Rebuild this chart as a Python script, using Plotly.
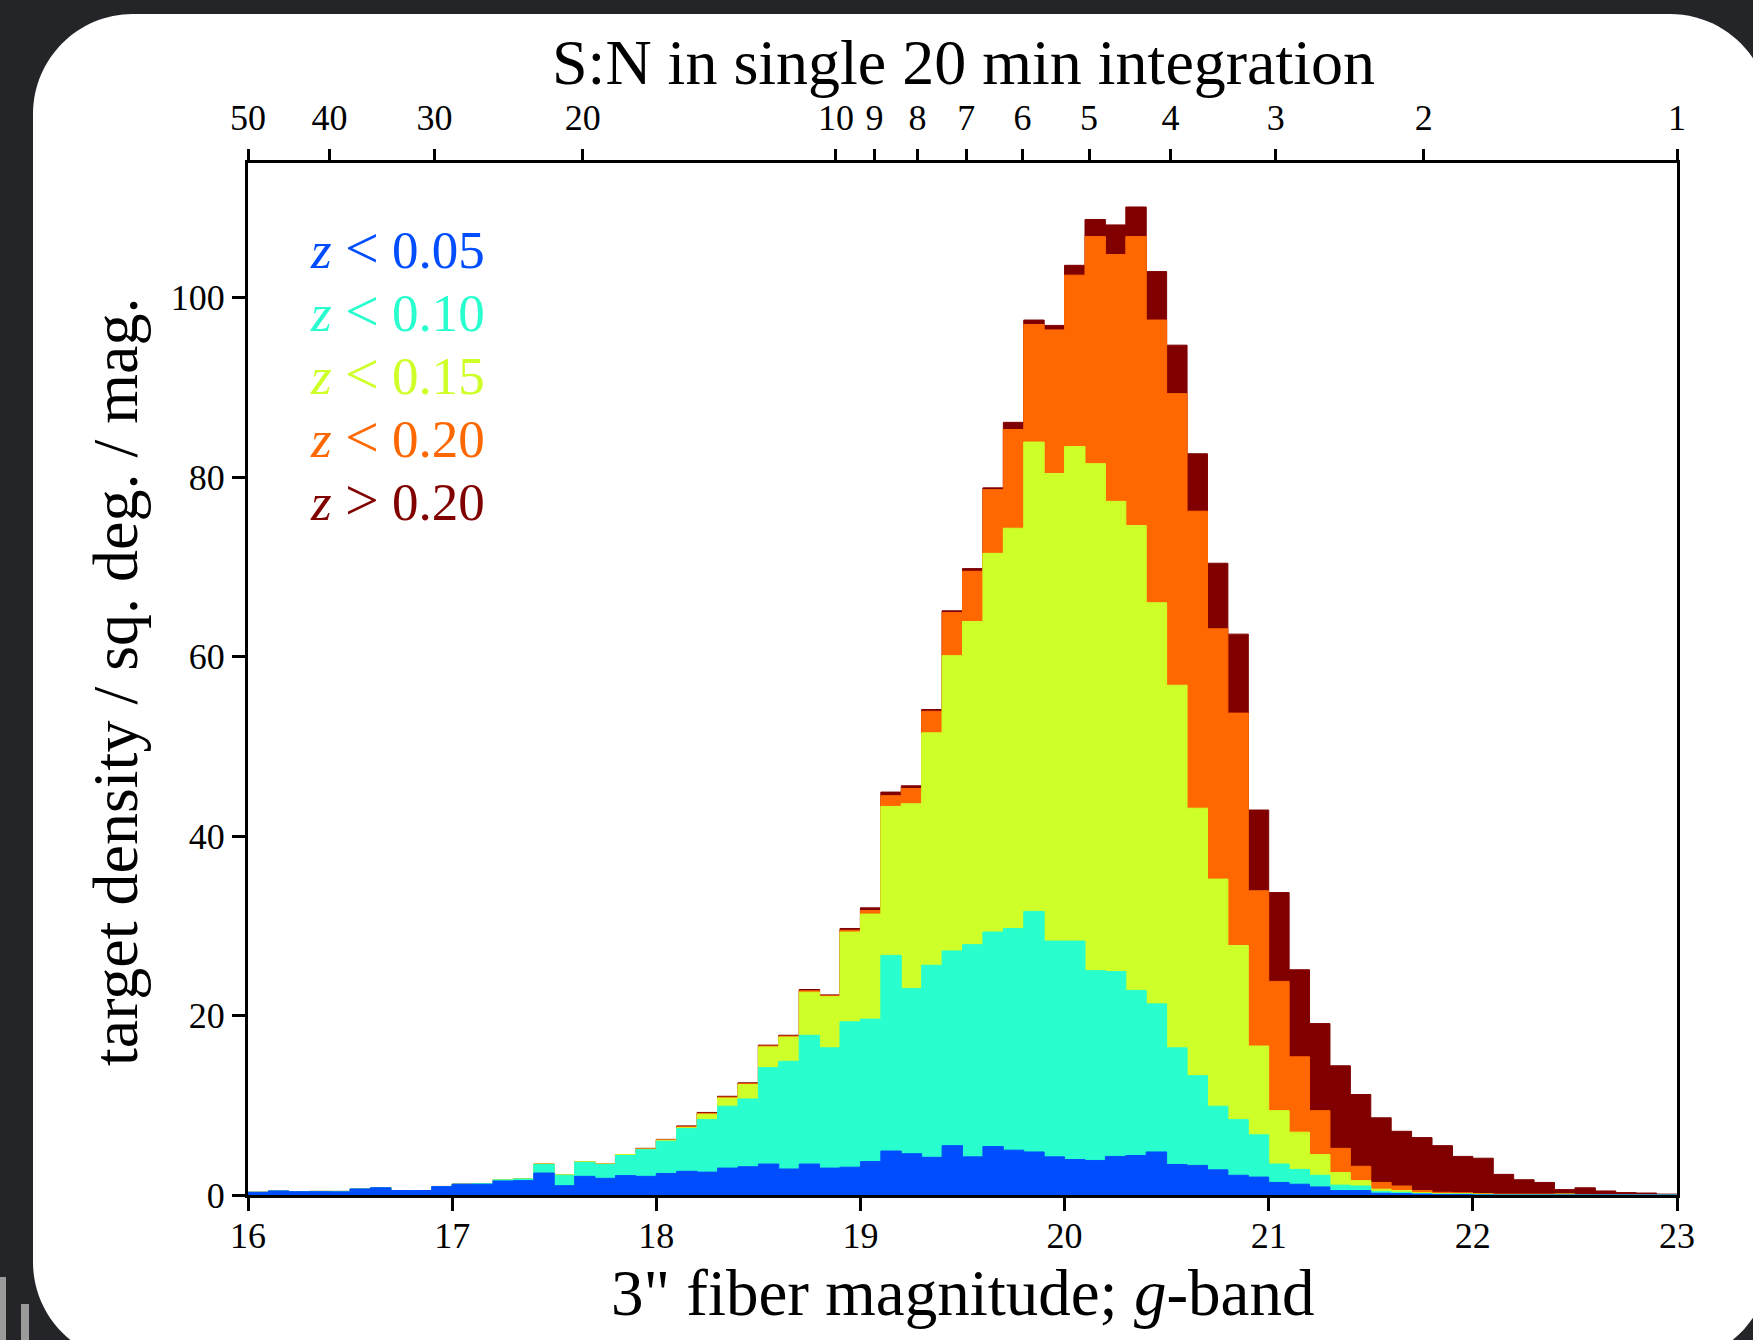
import numpy as np
import plotly.graph_objects as go

# ---------------- data ----------------
# histogram bins: 0.1 mag wide, left edges 16.0 ... 22.9
bin_left = [round(16.0 + 0.1 * i, 1) for i in range(70)]
bin_right_edge = 23.0

# cumulative target densities per bin (targets / sq. deg. / mag.)
z_lt_005 = [0.30, 0.45, 0.37, 0.37, 0.35, 0.67, 0.80, 0.50, 0.50, 0.93,
            1.20, 1.20, 1.56, 1.60, 2.45, 1.04, 2.08, 1.86, 2.16, 2.08,
            2.40, 2.64, 2.55, 3.00, 3.15, 3.45, 2.90, 3.45, 3.00, 3.10,
            3.72, 4.90, 4.60, 4.20, 5.50, 4.25, 5.40, 5.00, 4.80, 4.25,
            3.95, 3.85, 4.30, 4.40, 4.80, 3.40, 3.30, 2.80, 2.20, 2.00,
            1.40, 1.20, 0.90, 0.50, 0.50, 0.20, 0.15, 0.10, 0.05, 0.05,
            0, 0, 0, 0, 0, 0, 0, 0, 0, 0]
z_lt_010 = [0.30, 0.45, 0.37, 0.40, 0.40, 0.67, 0.80, 0.50, 0.50, 0.95,
            1.20, 1.25, 1.67, 1.78, 3.40, 2.20, 3.64, 3.40, 4.40, 5.05,
            6.00, 7.40, 8.40, 9.90, 10.70, 14.20, 14.90, 17.80, 16.40, 19.30,
            19.60, 26.70, 23.00, 25.60, 27.20, 27.90, 29.30, 29.70, 31.60, 28.30,
            28.30, 25.00, 24.90, 22.80, 21.30, 16.40, 13.30, 9.90, 8.40, 6.70,
            3.45, 2.85, 2.20, 1.10, 1.00, 0.40, 0.30, 0.15, 0.10, 0.10,
            0.05, 0, 0, 0, 0, 0, 0, 0, 0, 0]
z_lt_015 = [0.30, 0.45, 0.37, 0.40, 0.40, 0.67, 0.80, 0.50, 0.50, 0.95,
            1.20, 1.25, 1.70, 1.80, 3.45, 2.25, 3.70, 3.45, 4.50, 5.10,
            6.10, 7.50, 9.00, 10.80, 12.30, 16.50, 17.60, 22.60, 22.10, 29.30,
            31.30, 43.30, 43.60, 51.50, 60.10, 63.90, 71.50, 74.30, 83.90, 80.40,
            83.40, 81.50, 77.30, 74.60, 66.00, 56.80, 43.10, 35.20, 27.80, 16.60,
            9.40, 7.00, 4.50, 2.50, 1.60, 0.65, 0.50, 0.25, 0.15, 0.15,
            0.10, 0.05, 0.05, 0.05, 0.10, 0, 0, 0, 0, 0]
z_lt_020 = [0.30, 0.45, 0.37, 0.40, 0.40, 0.67, 0.80, 0.50, 0.50, 0.95,
            1.20, 1.25, 1.70, 1.80, 3.45, 2.25, 3.70, 3.45, 4.50, 5.15,
            6.15, 7.60, 9.10, 10.90, 12.40, 16.60, 17.70, 22.75, 22.20, 29.50,
            31.70, 44.50, 45.30, 53.90, 64.90, 69.50, 78.60, 85.30, 97.00, 96.40,
            102.50, 106.80, 104.80, 106.80, 97.50, 89.30, 76.20, 63.10, 53.70, 33.90,
            23.80, 15.40, 9.40, 5.20, 3.20, 1.40, 1.00, 0.50, 0.30, 0.25,
            0.15, 0.10, 0.10, 0.10, 0.10, 0.05, 0, 0, 0, 0]
z_all = [0.30, 0.45, 0.37, 0.40, 0.40, 0.67, 0.80, 0.50, 0.50, 0.95,
         1.20, 1.25, 1.70, 1.80, 3.45, 2.25, 3.70, 3.45, 4.50, 5.20,
         6.20, 7.70, 9.20, 11.00, 12.50, 16.70, 17.80, 22.90, 22.30, 29.70,
         32.00, 44.90, 45.60, 54.10, 65.10, 69.80, 78.80, 86.10, 97.50, 96.90,
         103.60, 108.70, 108.10, 110.10, 102.90, 94.70, 82.60, 70.40, 62.50, 42.90,
         33.70, 25.10, 19.10, 14.40, 11.20, 8.60, 7.10, 6.40, 5.50, 4.30,
         4.10, 2.30, 1.70, 1.40, 0.60, 0.80, 0.45, 0.27, 0.22, 0.10]

LT = "<span style='font-size:60px'>&lt;</span>"
GT = "<span style='font-size:60px'>&gt;</span>"
series_labels = ["<i>z</i> %s 0.05" % LT, "<i>z</i> %s 0.10" % LT,
                 "<i>z</i> %s 0.15" % LT, "<i>z</i> %s 0.20" % LT,
                 "<i>z</i> %s 0.20" % GT]
series_values = [z_lt_005, z_lt_010, z_lt_015, z_lt_020, z_all]
series_colors = ["#004dff", "#29ffce", "#ceff29", "#ff6800", "#800000"]

x_ticks = [16, 17, 18, 19, 20, 21, 22, 23]
y_ticks = [0, 20, 40, 60, 80, 100]
sn_ticks = [50, 40, 30, 20, 10, 9, 8, 7, 6, 5, 4, 3, 2, 1]

# ---------------- layout geometry (pixels) ----------------
W, H = 1753, 1340
L, R, T, B = 248, 1677, 163, 1195
PW, PH = R - L, B - T
FONT = "Liberation Serif"


def pp(x, y):
    """pixel -> paper coordinates"""
    return (x - L) / PW, (B - y) / PH


def rounded_rect_path(x0, y0, x1, y1, r):
    k = 0.5523 * r
    pts = [("M", [(x0 + r, y0)]), ("L", [(x1 - r, y0)]),
           ("C", [(x1 - r + k, y0), (x1, y0 + r - k), (x1, y0 + r)]),
           ("L", [(x1, y1 - r)]),
           ("C", [(x1, y1 - r + k), (x1 - r + k, y1), (x1 - r, y1)]),
           ("L", [(x0 + r, y1)]),
           ("C", [(x0 + r - k, y1), (x0, y1 - r + k), (x0, y1 - r)]),
           ("L", [(x0, y0 + r)]),
           ("C", [(x0, y0 + r - k), (x0 + r - k, y0), (x0 + r, y0)])]
    s = ""
    for cmd, plist in pts:
        s += cmd + " ".join("%.5f,%.5f" % pp(px, py) for px, py in plist) + " "
    return s + "Z"


fig = go.Figure()

# stacked (cumulative) step histograms, drawn from the largest to the smallest
edges_x = bin_left + [bin_right_edge]
for name, vals, col in reversed(list(zip(series_labels, series_values, series_colors))):
    fig.add_trace(go.Scatter(
        x=edges_x, y=list(vals) + [vals[-1]],
        mode="lines", line=dict(shape="hv", width=1, color=col),
        fill="tozeroy", fillcolor=col, name=name, showlegend=False,
        hoverinfo="skip"))

# dummy trace to activate the top S:N axis
fig.add_trace(go.Scatter(x=[50, 1], y=[0, 0], xaxis="x2", mode="markers",
                         marker=dict(size=1, opacity=0), showlegend=False,
                         hoverinfo="skip"))

axis_common = dict(ticks="outside", ticklen=13, tickwidth=3, tickcolor="black",
                   showgrid=False, zeroline=False,
                   tickfont=dict(family=FONT, size=36, color="black"))

shapes = [
    # white card
    dict(type="path", xref="paper", yref="paper", layer="below",
         path=rounded_rect_path(33, 14, 1770, 1362, 100),
         fillcolor="white", line=dict(width=0)),
]
# faint bits of the screenshot background at the lower left
for (x0, y0, x1, y1) in [(0, 1277, 6, 1340), (21, 1304, 29, 1340)]:
    a = pp(x0, y0)
    b = pp(x1, y1)
    shapes.append(dict(type="rect", xref="paper", yref="paper", layer="below",
                       x0=a[0], y0=a[1], x1=b[0], y1=b[1],
                       fillcolor="#9b9b9b", line=dict(width=0)))

annotations = []
# legend-like colored labels
legend_y = [248, 311, 374, 437, 500]
for lab, col, yy in zip(series_labels, series_colors, legend_y):
    ax_, ay_ = pp(308, yy)
    annotations.append(dict(xref="paper", yref="paper", x=ax_, y=ay_,
                            xanchor="left", yanchor="middle", showarrow=False,
                            text=lab, font=dict(family=FONT, size=53, color=col)))
# axis titles
tx, ty = pp(962, 1293)
annotations.append(dict(xref="paper", yref="paper", x=tx, y=ty, xanchor="center",
                        yanchor="middle", showarrow=False,
                        text='3" fiber magnitude; <i>g</i>-band',
                        font=dict(family=FONT, size=65, color="black")))
tx, ty = pp(963, 62)
annotations.append(dict(xref="paper", yref="paper", x=tx, y=ty, xanchor="center",
                        yanchor="middle", showarrow=False,
                        text="S:N in single 20 min integration",
                        font=dict(family=FONT, size=64, color="black")))
tx, ty = pp(115, 682)
annotations.append(dict(xref="paper", yref="paper", x=tx, y=ty, xanchor="center",
                        yanchor="middle", showarrow=False, textangle=-90,
                        text="target density / sq. deg. / mag.",
                        font=dict(family=FONT, size=64, color="black")))

fig.update_layout(
    width=W, height=H, autosize=False,
    margin=dict(l=L, r=W - R, t=T, b=H - B, pad=0),
    paper_bgcolor="#232529", plot_bgcolor="white",
    showlegend=False,
    xaxis=dict(range=[16, 23], tickvals=x_ticks, showline=True, linewidth=3,
               linecolor="black", mirror=True, ticklabelstandoff=-6,
               **axis_common),
    yaxis=dict(range=[0, 115], tickvals=y_ticks, showline=True, linewidth=3,
               linecolor="black", mirror=True, **axis_common),
    xaxis2=dict(type="log", range=[float(np.log10(50)), 0.0], overlaying="x",
                side="top", anchor="y", tickvals=sn_ticks,
                ticktext=[str(v) for v in sn_ticks], showline=False,
                ticklabelstandoff=5, **axis_common),
    shapes=shapes,
    annotations=annotations,
)

fig.write_html("out.html")
